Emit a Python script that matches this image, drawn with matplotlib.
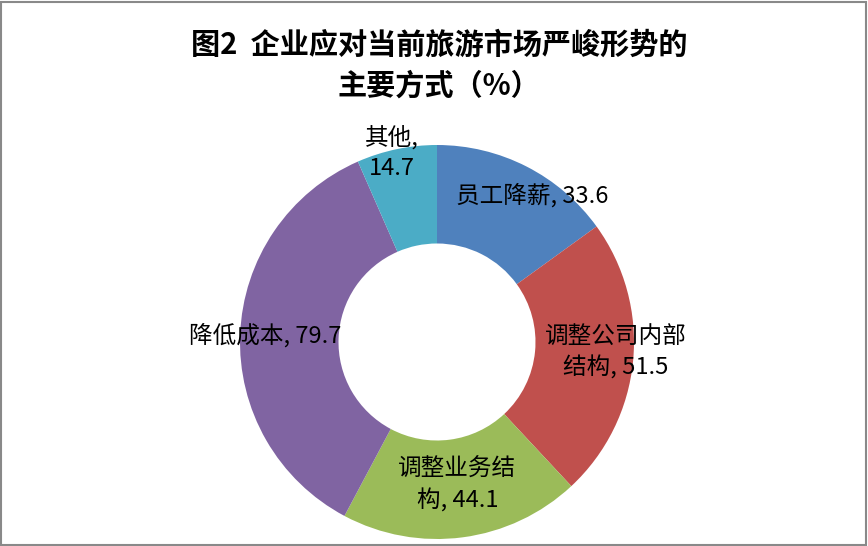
import numpy as np
import matplotlib
matplotlib.use("Agg")
import matplotlib.pyplot as plt
from matplotlib.patches import Rectangle

plt.rcParams['font.family'] = ['Noto Sans CJK SC', 'DejaVu Sans']

# Data
categories = ["员工降薪", "调整公司内部结构", "调整业务结构", "降低成本", "其他"]
values = [33.6, 51.5, 44.1, 79.7, 14.7]
colors = ['#4F81BD', '#C0504D', '#9BBB59', '#8064A2', '#4BACC6']
title = "图2  企业应对当前旅游市场严峻形势的\n主要方式（%）"

# where each label wraps onto a second line (0 = no wrap)
wrap_at = [0, 6, 5, 0, 3]
# nudges of each label from the ring middle, in pixels
label_nudge = [(28, 15), (32, 4), (1, 3), (-24, 1), (-15, 45)]

W, H = 868, 546
fig = plt.figure(figsize=(W / 100, H / 100), dpi=100)

# donut centre and radius in pixels
cx, cy, R = 437, 342, 197
ax = fig.add_axes([(cx - R) / W, (H - cy - R) / H, 2 * R / W, 2 * R / H])

wedges, _ = ax.pie(values, colors=colors, startangle=90, counterclock=False,
                   radius=1, wedgeprops=dict(width=0.5, linewidth=0))
ax.set_xlim(-1, 1)
ax.set_ylim(-1, 1)
ax.axis('off')

# Data labels at the middle of each ring segment
for w, name, v, k, (dx, dy) in zip(wedges, categories, values, wrap_at, label_nudge):
    text = f"{name}, {v}"
    if k:
        text = text[:k] + "\n" + text[k:].lstrip()
    mid = np.deg2rad((w.theta1 + w.theta2) / 2)
    x, y = 0.75 * np.cos(mid), 0.75 * np.sin(mid)
    ax.annotate(text, (x, y), xytext=(dx, dy), textcoords='offset pixels',
                ha='center', va='center', fontsize=17, color='black',
                linespacing=1.4, annotation_clip=False)

fig.text(439 / W, 1 - 65 / H, title, ha='center', va='center', fontsize=21,
         fontweight='bold', linespacing=1.45)

# Chart area border
fig.patches.append(Rectangle((1 / W, 1 / H), (W - 3) / W, (H - 3) / H,
                             transform=fig.transFigure, fill=False,
                             edgecolor='#898989', linewidth=1.5))

fig.savefig("out.png", dpi=100)
